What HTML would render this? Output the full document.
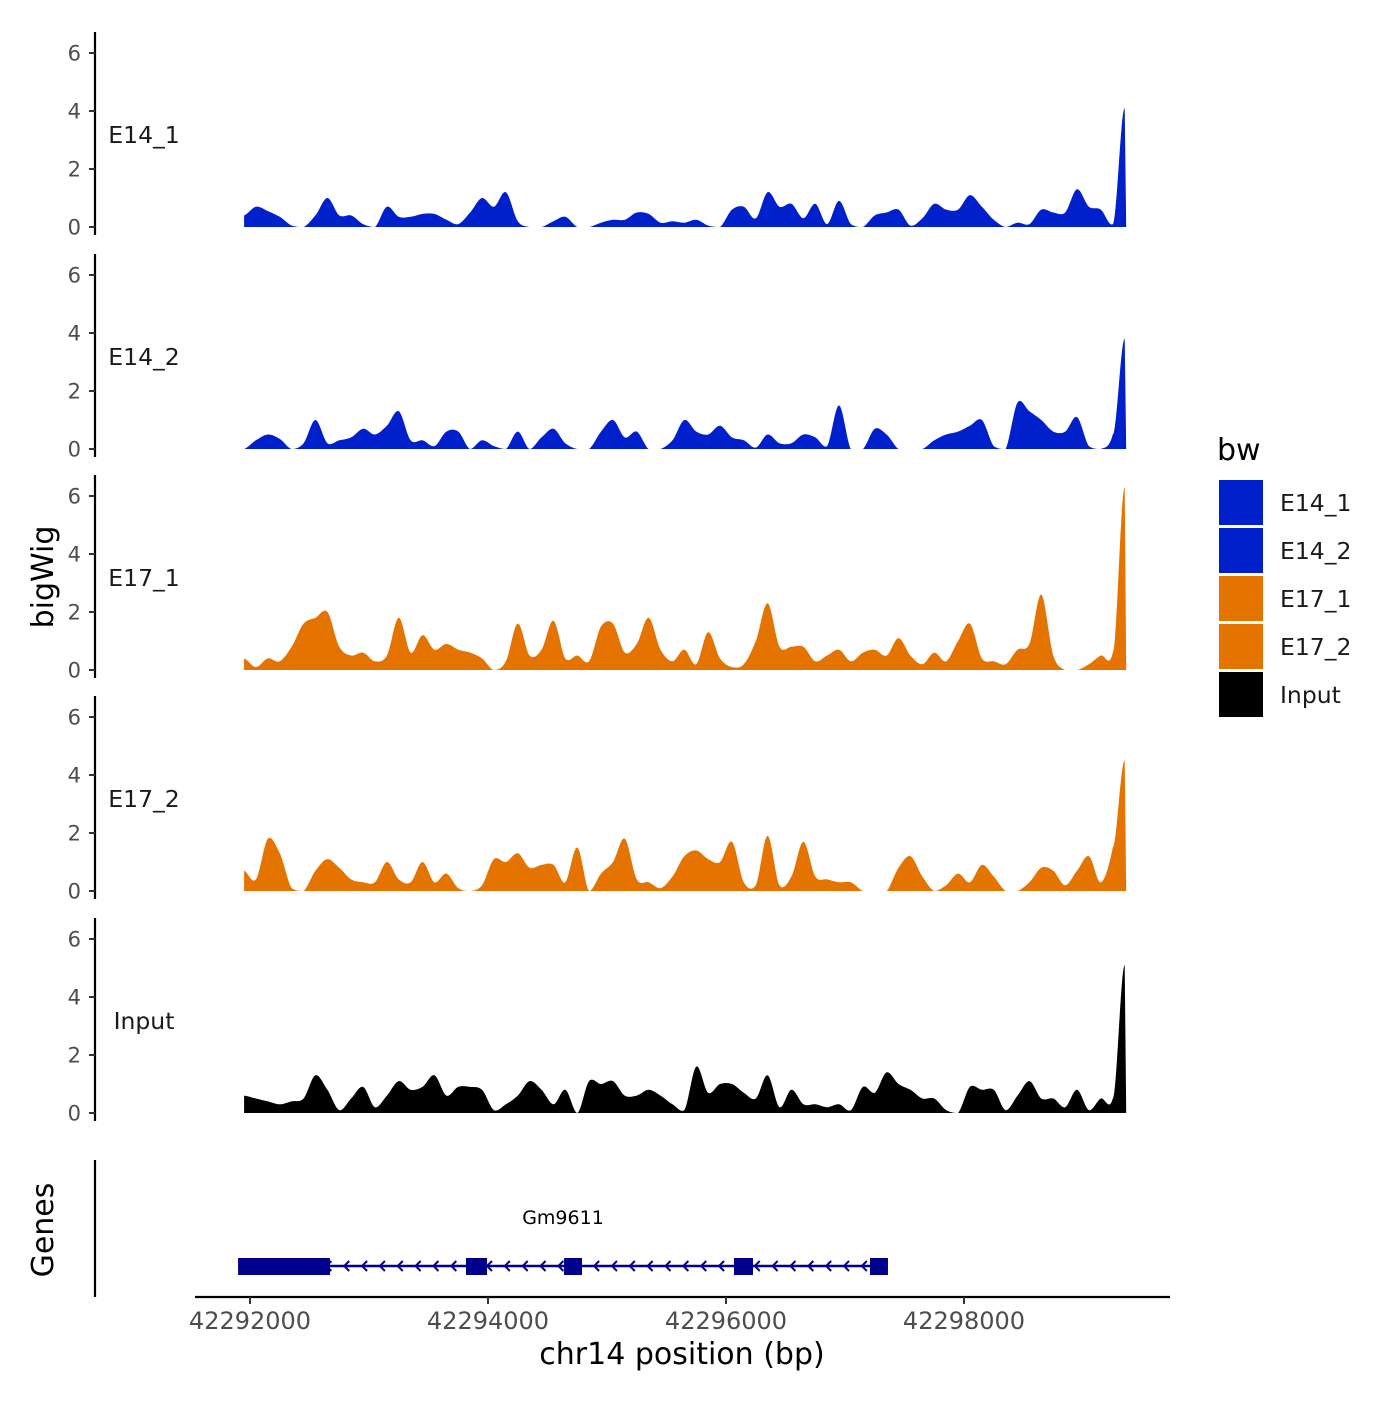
<!DOCTYPE html>
<html><head><meta charset="utf-8"><style>
body{margin:0;background:#fff}
svg text{font-family:"DejaVu Sans","Liberation Sans",sans-serif}
</style></head><body>
<svg id="chart" width="1400" height="1400" xmlns="http://www.w3.org/2000/svg"></svg>
<script>
const tracks = ["E14_1","E14_2","E17_1","E17_2","Input"];
const colors = ["#0020CC","#0020CC","#E57300","#E57300","#000000"];
const xTicks = [42292000,42294000,42296000,42298000];
const yTicks = [0,2,4,6];
const posStart = 42291950, posStep = 100;
const e14_1 = [0.4,0.7,0.55,0.35,0.05,0,0.4,1.0,0.4,0.4,0.1,0,0.7,0.35,0.35,0.45,0.45,0.25,0.1,0.5,1.0,0.7,1.2,0.2,0,0,0.2,0.35,0,0,0.15,0.25,0.25,0.5,0.45,0.15,0.2,0.15,0.25,0.05,0,0.6,0.7,0.3,1.2,0.7,0.8,0.3,0.8,0.1,0.9,0.1,0,0.4,0.5,0.6,0.05,0.3,0.8,0.6,0.6,1.1,0.7,0.25,0,0.15,0.1,0.6,0.5,0.5,1.3,0.7,0.6,0.1,4.1];
const e14_2 = [0,0.3,0.5,0.35,0,0.2,1.0,0.2,0.3,0.4,0.7,0.5,0.8,1.3,0.3,0.3,0.1,0.6,0.6,0,0.3,0.1,0,0.6,0,0.4,0.7,0.2,0,0,0.6,1.0,0.4,0.6,0,0,0.3,1.0,0.6,0.5,0.8,0.4,0.3,0.05,0.5,0.2,0.2,0.5,0.4,0.1,1.5,0,0,0.7,0.5,0,0,0,0.3,0.5,0.6,0.8,1.0,0.1,0,1.6,1.3,1.0,0.6,0.6,1.1,0.1,0,0.5,3.8];
const e17_1 = [0.4,0.1,0.4,0.3,0.8,1.6,1.8,2.0,0.8,0.5,0.6,0.3,0.5,1.8,0.6,1.2,0.7,0.9,0.7,0.6,0.4,0,0.3,1.6,0.5,0.7,1.7,0.4,0.5,0.3,1.5,1.6,0.6,0.9,1.8,0.7,0.3,0.7,0.2,1.3,0.4,0.1,0.2,1.0,2.3,0.8,0.8,0.8,0.3,0.5,0.7,0.3,0.6,0.7,0.5,1.1,0.5,0.2,0.6,0.3,1.0,1.6,0.4,0.3,0.2,0.7,0.9,2.6,0.5,0,0,0.2,0.5,0.6,6.3];
const e17_2 = [0.7,0.4,1.8,1.3,0.1,0,0.7,1.1,0.8,0.4,0.3,0.3,1.0,0.4,0.3,1.0,0.3,0.6,0.1,0,0.2,1.1,1.0,1.3,0.8,0.9,0.9,0.3,1.5,0,0.6,1.0,1.8,0.4,0.3,0.1,0.5,1.2,1.4,1.1,1.0,1.7,0.3,0.2,1.9,0.2,0.5,1.7,0.5,0.4,0.3,0.3,0,0,0,0.8,1.2,0.5,0,0.2,0.6,0.3,0.9,0.5,0,0,0.3,0.8,0.7,0.2,0.7,1.2,0.3,1.5,4.5];
const input = [0.6,0.5,0.4,0.3,0.4,0.5,1.3,0.8,0.1,0.5,0.9,0.2,0.6,1.1,0.8,0.9,1.3,0.6,0.9,0.9,0.8,0.1,0.3,0.6,1.1,0.8,0.3,0.8,0,1.1,1.0,1.1,0.6,0.6,0.8,0.6,0.3,0.1,1.6,0.7,1.0,1.0,0.7,0.5,1.3,0.2,0.8,0.3,0.3,0.2,0.3,0.1,0.9,0.7,1.4,1.0,0.8,0.5,0.5,0.1,0,0.9,0.8,0.8,0.1,0.6,1.1,0.5,0.5,0.2,0.8,0.1,0.5,0.5,5.1];
const series = [e14_1,e14_2,e17_1,e17_2,input];
const geneName = "Gm9611";
const geneStart = 42291900, geneEnd = 42297361;
const exonStarts = [42291900,42293815,42294639,42296067,42297210];
const exonEnds = [42292672,42293992,42294790,42296227,42297361];

const NS="http://www.w3.org/2000/svg";
const svg=document.getElementById('chart');
function mk(tag,attrs,parent){const e=document.createElementNS(NS,tag);for(const k in attrs)e.setAttribute(k,attrs[k]);(parent||svg).appendChild(e);return e;}
const xS = bp => 250 + (bp-42292000)*0.119;
const bases=[227,449,670,891,1113];
const yS = (v,i) => bases[i] - v*29;

tracks.forEach((name,ti)=>{
  const g=mk('g',{});
  
  
  const ax=mk('line',{x1:95,x2:95,y1:bases[ti]-195,y2:bases[ti]+8,stroke:'#000','stroke-width':2.2},g);
  
  
  yTicks.forEach(t=>{
    const y=yS(t,ti);
    const tk=mk('line',{x1:89,x2:95,y1:y,y2:y,stroke:'#333','stroke-width':2},g);
    
    
    const tl=mk('text',{x:81,y:y+7.5,'text-anchor':'end','font-size':21,fill:'#4d4d4d'},g);
    tl.textContent=t;
    
    
  });
  const vals=series[ti];
  const pts=vals.map((v,i)=>[xS(posStart+i*posStep),yS(v,ti)]);
  let d='M'+pts[0][0].toFixed(1)+','+bases[ti]+' L'+pts[0][0].toFixed(1)+','+pts[0][1].toFixed(1);
  for(let i=0;i<pts.length-1;i++){
    const p0=pts[Math.max(0,i-1)],p1=pts[i],p2=pts[i+1],p3=pts[Math.min(pts.length-1,i+2)];
    let c1y=Math.min(bases[ti],p1[1]+(p2[1]-p0[1])*0.16);
    let c2y=Math.min(bases[ti],p2[1]-(p3[1]-p1[1])*0.16);
    const c1x=p1[0]+(p2[0]-p1[0])/3, c2x=p2[0]-(p2[0]-p1[0])/3;
    if(i>=pts.length-2){c1y=p1[1];c2y=p2[1];}
    d+=` C${c1x.toFixed(1)},${c1y.toFixed(1)} ${c2x.toFixed(1)},${c2y.toFixed(1)} ${p2[0].toFixed(1)},${p2[1].toFixed(1)}`;
  }
  d+=' L'+(pts[pts.length-1][0]+1.5).toFixed(1)+','+bases[ti]+' Z';
  const a=mk('path',{d:d,fill:colors[ti],stroke:'none'},g);
  
  
  const lb=mk('text',{x:144,y:bases[ti]-92+8,'text-anchor':'middle','font-size':23.5,fill:'#1a1a1a'},g);
  lb.textContent=name;
  
  
});

// genes panel
const gg=mk('g',{});


const gax=mk('line',{x1:95,x2:95,y1:1160,y2:1297,stroke:'#000','stroke-width':2.2},gg);


const gl=mk('line',{x1:xS(geneStart),x2:xS(geneEnd),y1:1266,y2:1266,stroke:'#00008B','stroke-width':2.5},gg);


for(let bp=geneStart+600;bp<geneEnd;bp+=150){
  const x=xS(bp);
  const ar=mk('path',{d:`M${x+4},${1261} L${x-1},${1266} L${x+4},${1271}`,fill:'none',stroke:'#00008B','stroke-width':2},gg);
  
  
}
exonStarts.forEach((s,i)=>{
  const r=mk('rect',{x:xS(s),y:1258,width:xS(exonEnds[i])-xS(s),height:17,fill:'#00008B'},gg);
  
  
});
const gn=mk('text',{x:563,y:1224,'text-anchor':'middle','font-size':19,fill:'#000'},gg);
gn.textContent=geneName;



// x axis
const xa=mk('line',{x1:195,x2:1170,y1:1297,y2:1297,stroke:'#000','stroke-width':2.2});


xTicks.forEach(t=>{
  const x=xS(t);
  const tk=mk('line',{x1:x,x2:x,y1:1297,y2:1304,stroke:'#333','stroke-width':2});
  
  
  const tl=mk('text',{x:x,y:1329,'text-anchor':'middle','font-size':24,fill:'#4d4d4d'});
  tl.textContent=t;
  
  
});
const xt=mk('text',{x:682,y:1364,'text-anchor':'middle','font-size':30,fill:'#000'});
xt.textContent='chr14 position (bp)';


const yt=mk('text',{x:0,y:0,'text-anchor':'middle','font-size':30,fill:'#000',transform:'translate(53,577) rotate(-90)'});
yt.textContent='bigWig';


const gt=mk('text',{x:0,y:0,'text-anchor':'middle','font-size':30,fill:'#000',transform:'translate(53,1230) rotate(-90)'});
gt.textContent='Genes';



// legend
const lg=mk('g',{});


const lt=mk('text',{x:1217,y:460,'font-size':30,fill:'#000'},lg);
lt.textContent='bw';


tracks.forEach((name,i)=>{
  const y=480+i*48;
  const r=mk('rect',{x:1219,y:y,width:44,height:45,fill:colors[i]},lg);
  
  
  const t=mk('text',{x:1280,y:y+31,'font-size':23.5,fill:'#1a1a1a'},lg);
  t.textContent=name;
  
  
});
</script>
</body></html>
